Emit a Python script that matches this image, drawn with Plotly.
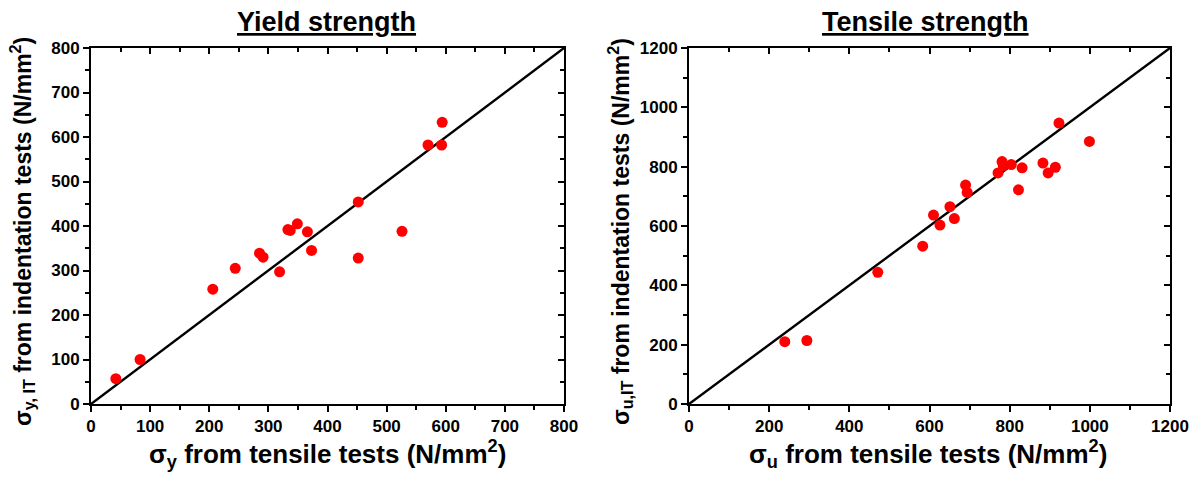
import plotly.graph_objects as go

# --- donnees ---
# Limite d'elasticite (yield strength), N/mm2
ys_traction = [42, 83, 206, 244, 285, 291, 319, 333, 337, 349, 366, 373, 452, 452, 526, 570, 593, 594]
ys_indent = [57, 100, 258, 305, 339, 330, 297, 392, 390, 405, 387, 345, 454, 328, 388, 582, 582, 633]

# Resistance a la traction (tensile strength), N/mm2
uts_traction = [239, 294, 471, 583, 610, 626, 651, 662, 690, 694, 771, 781, 784, 804,
                822, 831, 883, 896, 914, 923, 999]
uts_indent = [210, 214, 444, 532, 637, 603, 665, 625, 738, 713, 779, 817, 803, 807,
              722, 796, 812, 779, 798, 947, 885]

# droites y = x
diag_ys = [0, 800]
diag_uts = [0, 1200]

# graduations
ticks_ys = [0, 100, 200, 300, 400, 500, 600, 700, 800]
ticks_uts = [0, 200, 400, 600, 800, 1000, 1200]

FONT = "Liberation Sans"
ROUGE = "#ff0000"

fig = go.Figure()

fig.add_trace(go.Scatter(x=diag_ys, y=diag_ys, mode="lines",
                         line=dict(color="black", width=2.4), xaxis="x", yaxis="y",
                         showlegend=False, hoverinfo="skip"))
fig.add_trace(go.Scatter(x=ys_traction, y=ys_indent, mode="markers",
                         marker=dict(color=ROUGE, size=11), xaxis="x", yaxis="y",
                         showlegend=False))
fig.add_trace(go.Scatter(x=diag_uts, y=diag_uts, mode="lines",
                         line=dict(color="black", width=2.4), xaxis="x2", yaxis="y2",
                         showlegend=False, hoverinfo="skip"))
fig.add_trace(go.Scatter(x=uts_traction, y=uts_indent, mode="markers",
                         marker=dict(color=ROUGE, size=11), xaxis="x2", yaxis="y2",
                         showlegend=False))

W, H = 1203, 480
dom_x1 = [91 / W, 564 / W]
dom_x2 = [689 / W, 1170 / W]
dom_y = [1 - 404 / H, 1 - 48 / H]


def axe(rng, vals, dom, anchor, side=None, overlaying=None, labels=True, inside=False):
    pas = vals[1] - vals[0]
    sens = "inside" if inside else "outside"
    d = dict(range=rng, tickmode="array", tickvals=vals,
             domain=dom, anchor=anchor, automargin=False,
             showgrid=False, zeroline=False,
             showline=True, linecolor="black", linewidth=2,
             ticks=sens, ticklen=6, tickwidth=2, tickcolor="black",
             minor=dict(tick0=0, dtick=pas / 2, ticks=sens,
                        ticklen=4, tickwidth=2, tickcolor="black"),
             showticklabels=labels,
             fixedrange=True)
    if labels:
        d["ticktext"] = [f"<b>{v}</b>" for v in vals]
        d["tickfont"] = dict(family=FONT, size=17, color="black", weight="bold")
    if side:
        d["side"] = side
    if overlaying:
        d["overlaying"] = overlaying
    return d


fig.update_layout(
    width=W, height=H,
    margin=dict(l=0, r=0, t=0, b=0),
    plot_bgcolor="white", paper_bgcolor="white",
    xaxis=axe([0, 800], ticks_ys, dom_x1, "y"),
    yaxis=axe([0, 800], ticks_ys, dom_y, "x"),
    xaxis2=axe([0, 1200], ticks_uts, dom_x2, "y2"),
    yaxis2=axe([0, 1200], ticks_uts, dom_y, "x2"),
    # cadres haut / droite avec graduations interieures
    xaxis3=axe([0, 800], ticks_ys, dom_x1, "y", side="top", overlaying="x", labels=False, inside=True),
    yaxis3=axe([0, 800], ticks_ys, dom_y, "x", side="right", overlaying="y", labels=False, inside=True),
    xaxis4=axe([0, 1200], ticks_uts, dom_x2, "y2", side="top", overlaying="x2", labels=False, inside=True),
    yaxis4=axe([0, 1200], ticks_uts, dom_y, "x2", side="right", overlaying="y2", labels=False, inside=True),
)

# traces invisibles pour forcer l'affichage des axes superposes
fig.add_trace(go.Scatter(x=[], y=[], xaxis="x3", yaxis="y3", showlegend=False))
fig.add_trace(go.Scatter(x=[], y=[], xaxis="x4", yaxis="y4", showlegend=False))


def texte(txt, x, y, size, angle=0):
    fig.add_annotation(text=f"<b>{txt}</b>", x=x / W, y=1 - y / H, xref="paper", yref="paper",
                       showarrow=False, textangle=angle, xanchor="center", yanchor="middle",
                       font=dict(family=FONT, size=size, color="black"))


texte("<u>Yield strength</u>", 326, 22, 27)
texte("<u>Tensile strength</u>", 926, 22, 27)
texte("σ<sub>y</sub> from tensile tests (N/mm<sup>2</sup>)", 327, 454, 26)
texte("σ<sub>u</sub> from tensile tests (N/mm<sup>2</sup>)", 928, 454, 26)
texte("σ<sub>y, IT</sub> from indentation tests (N/mm<sup>2</sup>)", 22, 232, 23, angle=-90)
texte("σ<sub>u,IT</sub> from indentation tests (N/mm<sup>2</sup>)", 620, 232, 23, angle=-90)

# pas de marge autour de la figure dans la page
fig.write_html("out.html", config={"displayModeBar": False},
               post_script="document.body.style.margin='0';")
